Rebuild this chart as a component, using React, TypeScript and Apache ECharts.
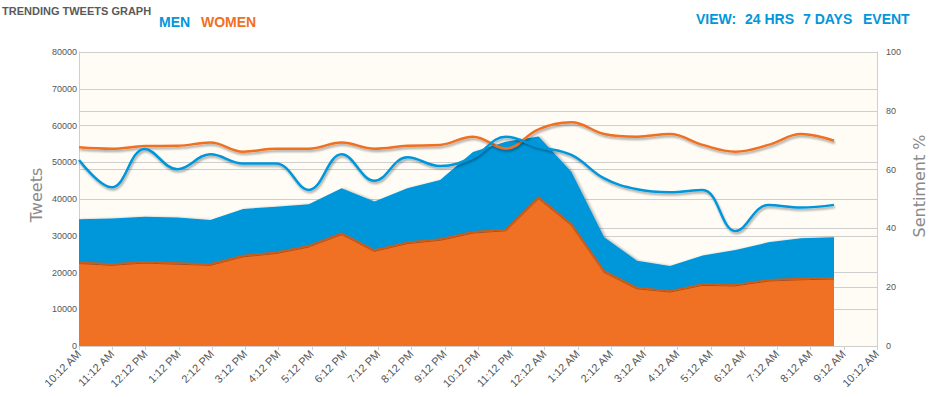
import React, { useEffect, useRef } from "react";
import * as echarts from "echarts";

const timeLabels = [
  "10:12 AM", "11:12 AM", "12:12 PM", "1:12 PM", "2:12 PM", "3:12 PM", "4:12 PM",
  "5:12 PM", "6:12 PM", "7:12 PM", "8:12 PM", "9:12 PM", "10:12 PM", "11:12 PM",
  "12:12 AM", "1:12 AM", "2:12 AM", "3:12 AM", "4:12 AM", "5:12 AM", "6:12 AM",
  "7:12 AM", "8:12 AM", "9:12 AM", "10:12 AM",
];

// tweet counts (drawn as overlapping areas)
const menTweets = [
  34500, 34700, 35200, 35000, 34300, 37300, 37900, 38600, 42900, 39300, 42900, 45200,
  52800, 55600, 57000, 47400, 29600, 23200, 21800, 24600, 26100, 28200, 29300, 29600,
];
const womenTweets = [
  22800, 22300, 22900, 22600, 22300, 24600, 25500, 27300, 30700, 26100, 28200, 29100,
  31100, 31700, 40500, 33200, 20400, 15900, 15000, 16900, 16700, 18000, 18400, 18600,
];

// sentiment %
const menSentiment = [
  63.3, 54.0, 67.0, 60.1, 65.2, 62.1, 62.1, 53.1, 65.2, 56.2, 64.2, 61.2,
  64.2, 71.2, 67.8, 65.0, 57.0, 53.3, 52.3, 53.1, 39.1, 48.0, 47.1, 48.0,
];
const womenSentiment = [
  67.6, 67.1, 68.0, 68.1, 69.2, 66.1, 67.1, 67.1, 69.2, 67.1, 68.1, 68.4,
  71.2, 67.2, 73.7, 76.1, 72.1, 71.2, 72.1, 68.4, 66.1, 68.4, 72.1, 69.8,
];

const BLUE = "#0296da";
const ORANGE = "#f07024";
const GRID = "#cfcfcf";

export default function App() {
  const ref = useRef<HTMLDivElement>(null);
  useEffect(() => {
    if (!ref.current) return;
    const chart = echarts.init(ref.current, undefined, { renderer: "svg" });
    const lineShadow = {
      shadowColor: "rgba(0,0,0,0.35)",
      shadowBlur: 2,
      shadowOffsetX: 1,
      shadowOffsetY: 2,
    };
    chart.setOption({
      animation: false,
      textStyle: { fontFamily: "Liberation Sans, Arial, sans-serif" },
      grid: [
        { left: 79, right: 57, top: 52, bottom: 51, show: true, backgroundColor: "#fffcf5", borderWidth: 0 },
        { left: 79, right: 100, top: 52, bottom: 51 },
      ],
      xAxis: [
        {
          type: "category",
          gridIndex: 0,
          data: timeLabels,
          boundaryGap: false,
          axisLine: { show: true, lineStyle: { color: GRID } },
          axisTick: { show: true, length: 4, lineStyle: { color: GRID } },
          axisLabel: { rotate: 45, interval: 0, color: "#555", fontSize: 11, margin: 6 },
          splitLine: { show: false },
        },
        {
          type: "category",
          gridIndex: 1,
          data: timeLabels.slice(0, 24),
          boundaryGap: false,
          show: false,
          splitLine: { show: false },
        },
      ],
      yAxis: [
        {
          type: "value",
          gridIndex: 0,
          min: 0,
          max: 80000,
          interval: 10000,
          position: "left",
          axisLine: { show: true, lineStyle: { color: GRID } },
          axisTick: { show: false },
          axisLabel: { color: "#555", fontSize: 9, margin: 2, formatter: (v: number) => String(v) },
          splitLine: { show: true, lineStyle: { color: GRID } },
        },
        {
          type: "value",
          gridIndex: 0,
          min: 0,
          max: 100,
          interval: 20,
          position: "right",
          axisLine: { show: true, lineStyle: { color: GRID } },
          axisTick: { show: false },
          axisLabel: { color: "#555", fontSize: 9, margin: 9 },
          splitLine: { show: true, lineStyle: { color: GRID } },
        },
        { type: "value", gridIndex: 1, min: 0, max: 80000, show: false, splitLine: { show: false } },
        { type: "value", gridIndex: 1, min: 0, max: 100, show: false, splitLine: { show: false } },
      ],
      series: [
        {
          name: "Men tweets",
          type: "line",
          xAxisIndex: 1,
          yAxisIndex: 2,
          data: menTweets,
          showSymbol: false,
          lineStyle: { width: 0, color: BLUE },
          itemStyle: { color: BLUE },
          areaStyle: { color: BLUE, opacity: 1, shadowColor: "rgba(0,0,0,0.25)", shadowBlur: 2, shadowOffsetX: 2 },
        },
        {
          name: "Women tweets",
          type: "line",
          xAxisIndex: 1,
          yAxisIndex: 2,
          data: womenTweets,
          showSymbol: false,
          lineStyle: { width: 1.5, color: "#c95d1c", shadowColor: "rgba(0,0,0,0.3)", shadowBlur: 1, shadowOffsetY: 1 },
          itemStyle: { color: ORANGE },
          areaStyle: { color: ORANGE, opacity: 1 },
        },
        {
          name: "Women sentiment",
          type: "line",
          xAxisIndex: 1,
          yAxisIndex: 3,
          data: womenSentiment,
          smooth: 0.4,
          showSymbol: false,
          lineStyle: { width: 2.5, color: ORANGE, ...lineShadow },
          itemStyle: { color: ORANGE },
        },
        {
          name: "Men sentiment",
          type: "line",
          xAxisIndex: 1,
          yAxisIndex: 3,
          data: menSentiment,
          smooth: 0.4,
          showSymbol: false,
          lineStyle: { width: 2.5, color: BLUE, ...lineShadow },
          itemStyle: { color: BLUE },
        },
      ],
      graphic: [
        {
          type: "text",
          x: 2,
          y: 11,
          style: { text: "TRENDING TWEETS GRAPH", fill: "#5a5a5a", font: "bold 11px Liberation Sans, Arial, sans-serif", textVerticalAlign: "middle" },
        },
        {
          type: "text",
          x: 159,
          y: 22,
          style: { text: "MEN", fill: BLUE, font: "bold 14px Liberation Sans, Arial, sans-serif", textVerticalAlign: "middle" },
        },
        {
          type: "text",
          x: 201,
          y: 22,
          style: { text: "WOMEN", fill: ORANGE, font: "bold 14px Liberation Sans, Arial, sans-serif", textVerticalAlign: "middle" },
        },
        {
          type: "text",
          x: 696,
          y: 19,
          style: { text: "VIEW:", fill: BLUE, font: "bold 14px Liberation Sans, Arial, sans-serif", textVerticalAlign: "middle" },
        },
        {
          type: "text",
          x: 745,
          y: 19,
          style: { text: "24 HRS", fill: BLUE, font: "bold 14px Liberation Sans, Arial, sans-serif", textVerticalAlign: "middle" },
        },
        {
          type: "text",
          x: 803,
          y: 19,
          style: { text: "7 DAYS", fill: BLUE, font: "bold 14px Liberation Sans, Arial, sans-serif", textVerticalAlign: "middle" },
        },
        {
          type: "text",
          x: 863,
          y: 19,
          style: { text: "EVENT", fill: BLUE, font: "bold 14px Liberation Sans, Arial, sans-serif", textVerticalAlign: "middle" },
        },
        {
          type: "text",
          x: 36,
          y: 195,
          rotation: Math.PI / 2,
          style: { text: "Tweets", fill: "#8a8a8a", font: "16px DejaVu Sans, sans-serif", textAlign: "center", textVerticalAlign: "middle" },
        },
        {
          type: "text",
          x: 919,
          y: 186,
          rotation: Math.PI / 2,
          style: { text: "Sentiment %", fill: "#8a8a8a", font: "16px DejaVu Sans, sans-serif", textAlign: "center", textVerticalAlign: "middle" },
        },
      ],
    });
    return () => chart.dispose();
  }, []);
  return (
    <div
      ref={ref}
      style={{ position: "absolute", left: 0, top: 0, width: 934, height: 397, background: "#fff" }}
    />
  );
}
